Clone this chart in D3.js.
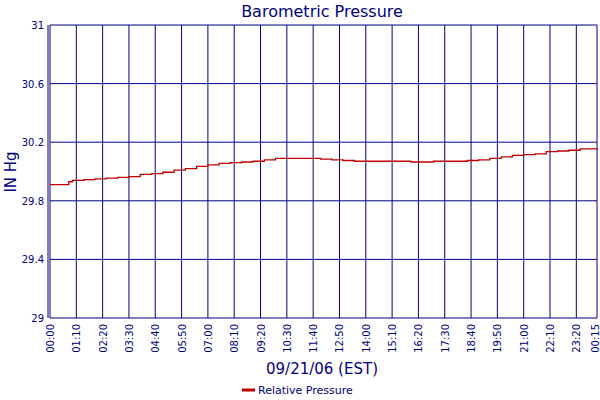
<!DOCTYPE html><html><head><script src="https://cdn.jsdelivr.net/npm/d3@7"></script>
<style>body{margin:0;background:#fff}text{font-family:Verdana,"DejaVu Sans",sans-serif}</style></head><body><svg width="600" height="400"></svg>
<script>
const tickLabels=["00:00","01:10","02:20","03:30","04:40","05:50","07:00","08:10","09:20","10:30","11:40","12:50","14:00","15:10","16:20","17:30","18:40","19:50","21:00","22:10","23:20","00:15"];
const times=[0,40,50,60,90,120,150,180,210,240,270,300,330,360,390,420,450,480,510,540,570,600,630,660,690,720,750,780,810,840,900,960,1020,1080,1110,1140,1170,1200,1230,1260,1290,1320,1350,1380,1410,1455];
const values=[29.91,29.91,29.93,29.94,29.945,29.95,29.955,29.96,29.965,29.98,29.985,29.995,30.01,30.02,30.035,30.045,30.055,30.06,30.065,30.07,30.08,30.09,30.09,30.09,30.09,30.085,30.08,30.075,30.07,30.07,30.07,30.065,30.07,30.07,30.075,30.08,30.09,30.10,30.11,30.115,30.12,30.135,30.14,30.145,30.155,30.16];
const yTicks=[29,29.4,29.8,30.2,30.6,31];
const svg=d3.select("svg"),L=50,R=597,T=25,B=318,navy="#000080";
const x=d3.scaleLinear().domain([0,1455]).range([L,R]);
const y=d3.scaleLinear().domain([29,31]).range([B,T]);
const tickMins=tickLabels.map((d,i)=>i<21?i*70:1455);
svg.append("g").selectAll("line").data(tickMins).join("line").attr("x1",d=>x(d)).attr("x2",d=>x(d)).attr("y1",T).attr("y2",B).attr("stroke",navy);
svg.append("g").selectAll("line").data(yTicks).join("line").attr("x1",L).attr("x2",R).attr("y1",d=>y(d)).attr("y2",d=>y(d)).attr("stroke",navy);
svg.append("line").attr("x1",L-2).attr("x2",L-2).attr("y1",T).attr("y2",B).attr("stroke",navy);
svg.append("g").selectAll("text").data(yTicks).join("text").attr("x",L-6).attr("y",d=>y(d)+4).attr("text-anchor","end").attr("font-size",10).attr("fill",navy).text(d=>d);
svg.append("g").selectAll("text").data(tickLabels).join("text").attr("transform",(d,i)=>`translate(${Math.min(x(tickMins[i])+4,599)},${B+6}) rotate(-90)`).attr("text-anchor","end").attr("font-size",10).attr("fill",navy).text(d=>d);
svg.append("path").datum(times.map((t,i)=>[t,values[i]])).attr("d",d3.line().x(d=>x(d[0])).y(d=>y(d[1])).curve(d3.curveStepAfter)).attr("fill","none").attr("stroke","#c00000").attr("stroke-width",1.3);
svg.append("text").attr("x",322).attr("y",17).attr("text-anchor","middle").attr("font-size",16).attr("fill",navy).text("Barometric Pressure");
svg.append("text").attr("x",322).attr("y",374).attr("text-anchor","middle").attr("font-size",15).attr("fill",navy).text("09/21/06 (EST)");
svg.append("text").attr("transform","translate(16,172) rotate(-90)").attr("text-anchor","middle").attr("font-size",15).attr("fill",navy).text("IN Hg");
svg.append("line").attr("x1",242).attr("x2",255).attr("y1",390).attr("y2",390).attr("stroke","#c00000").attr("stroke-width",3);
svg.append("text").attr("x",258).attr("y",394).attr("font-size",11).attr("fill",navy).text("Relative Pressure");
</script></body></html>
